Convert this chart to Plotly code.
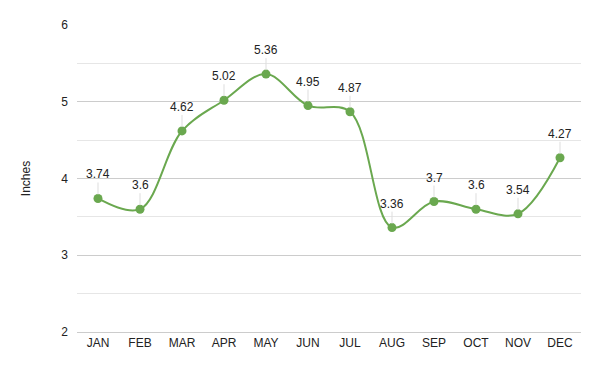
import plotly.graph_objects as go

months = ["JAN", "FEB", "MAR", "APR", "MAY", "JUN", "JUL", "AUG", "SEP", "OCT", "NOV", "DEC"]
inches = [3.74, 3.6, 4.62, 5.02, 5.36, 4.95, 4.87, 3.36, 3.7, 3.6, 3.54, 4.27]
y_ticks = [2, 3, 4, 5, 6]

green = "#6aa84f"

fig = go.Figure()

for m, v in zip(months, inches):
    fig.add_annotation(
        x=m, y=v, text=f"{v:g}", showarrow=True, arrowhead=0, arrowwidth=1,
        arrowcolor="#dddddd", ax=0, ay=-16, standoff=4,
        font=dict(family="Liberation Sans, Arial, sans-serif", size=12, color="#222222"),
        xanchor="center", yanchor="bottom", borderpad=0,
    )

fig.add_trace(go.Scatter(
    x=months, y=inches, mode="lines+markers",
    line=dict(color=green, width=2, shape="spline", smoothing=1),
    marker=dict(color=green, size=9),
    hoverinfo="skip", showlegend=False, cliponaxis=False,
))

fig.update_layout(
    width=600, height=371,
    margin=dict(l=77, r=19, t=25, b=39, autoexpand=False),
    paper_bgcolor="white", plot_bgcolor="white",
    font=dict(family="Liberation Sans, Arial, sans-serif", size=12, color="#222222"),
    xaxis=dict(
        categoryorder="array", categoryarray=months, range=[-0.5, len(months) - 0.5],
        showgrid=False, zeroline=False, showline=True, linecolor="#cccccc", linewidth=1,
        ticks="", tickfont=dict(size=12, color="#222222"), automargin=False,
    ),
    yaxis=dict(
        range=[2, 6], tickvals=y_ticks, ticktext=[str(t) for t in y_ticks],
        showgrid=True, gridcolor="#cccccc", gridwidth=1,
        zeroline=False, showline=False, ticks="",
        tickfont=dict(size=12, color="#222222"),
        ticklabelstandoff=8, automargin=False,
        minor=dict(dtick=0.5, tick0=2, showgrid=True, gridcolor="#e6e6e6", gridwidth=1),
        title=dict(text="Inches", font=dict(size=12, color="#222222"), standoff=28),
    ),
)

fig.write_html("out.html", config={"displayModeBar": False},
               post_script="document.body.style.margin='0';")
